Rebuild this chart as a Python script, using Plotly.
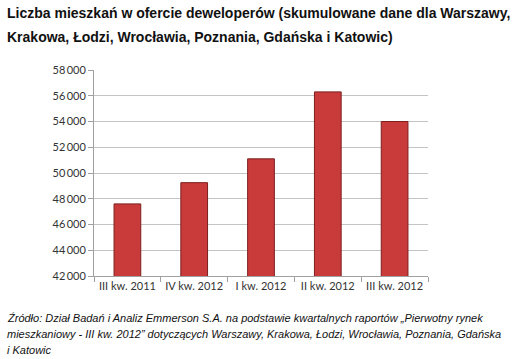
import plotly.graph_objects as go

categories = ["III kw. 2011", "IV kw. 2012", "I kw. 2012", "II kw. 2012", "III kw. 2012"]
values = [47600, 49250, 51100, 56300, 54000]
y_ticks = [42000, 44000, 46000, 48000, 50000, 52000, 54000, 56000, 58000]

title_lines = [
    "Liczba mieszkań w ofercie deweloperów (skumulowane dane dla Warszawy,",
    "Krakowa, Łodzi, Wrocławia, Poznania, Gdańska i Katowic)",
]
source_lines = [
    "Źródło: Dział Badań i Analiz Emmerson S.A. na podstawie kwartalnych raportów „Pierwotny rynek",
    "mieszkaniowy - III kw. 2012\u201d dotyczących Warszawy, Krakowa, Łodzi, Wrocławia, Poznania, Gdańska",
    "i Katowic",
]

fig = go.Figure()
fig.add_trace(go.Bar(
    x=categories, y=values,
    marker=dict(color="#c93a3a", line=dict(color="#7e1e1e", width=1)),
    width=0.4,
))

tick_text = [f"{v:,}".replace(",", "\u2009") for v in y_ticks]

fig.update_layout(
    width=525, height=359,
    margin=dict(l=94, r=97, t=70, b=83),
    paper_bgcolor="white", plot_bgcolor="white",
    showlegend=False,
    font=dict(family="Lato, Liberation Sans, sans-serif", size=11, color="#333333"),
    xaxis=dict(
        type="category",
        showgrid=False,
        showline=True, linecolor="#a0a0a0", linewidth=1,
        ticks="outside", ticklen=5, tickcolor="#a0a0a0",
        tickson="boundaries",
        tickangle=0,
        tickfont=dict(size=11, color="#333333"),
    ),
    yaxis=dict(
        range=[42000, 58000],
        tickvals=y_ticks, ticktext=tick_text,
        showgrid=True, gridcolor="#c4c4c4", gridwidth=1,
        showline=True, linecolor="#a0a0a0", linewidth=1,
        ticks="outside", ticklen=5, tickcolor="#a0a0a0",
        tickfont=dict(size=11, color="#333333"),
        zeroline=False,
    ),
)

annotations = []
for i, line in enumerate(title_lines):
    annotations.append(dict(
        text=f"<b>{line}</b>", xref="paper", yref="paper",
        x=-89/334, y=1 + (70 - 13 - i*24)/206,
        xanchor="left", yanchor="middle", showarrow=False,
        font=dict(family="Liberation Sans, Arial, sans-serif", size=14, color="#111111"),
    ))
for i, line in enumerate(source_lines):
    annotations.append(dict(
        text=f"<i>{line}</i>", xref="paper", yref="paper",
        x=-89/334, y=-(318 + i*16 - 276)/206,
        xanchor="left", yanchor="middle", showarrow=False,
        font=dict(family="Liberation Sans, Arial, sans-serif", size=11, color="#111111"),
    ))
fig.update_layout(annotations=annotations)

fig.write_html(
    "out.html",
    config={"displayModeBar": False},
    post_script="document.body.style.margin='0';document.body.style.overflow='hidden';",
)
